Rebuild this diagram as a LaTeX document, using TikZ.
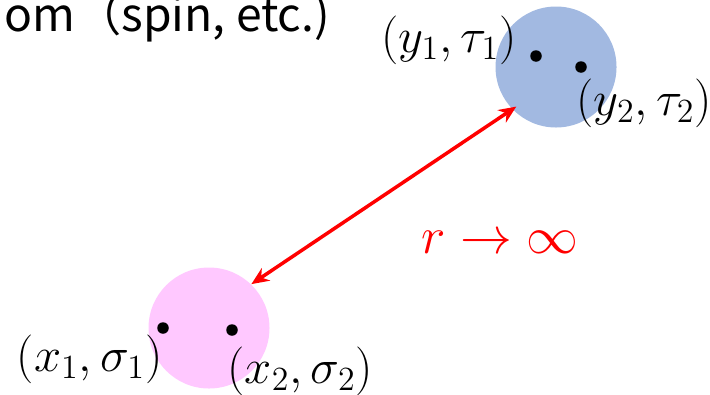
\documentclass[tikz,border=0pt]{standalone}
\usepackage{fontspec}
\newfontfamily\cjk{Noto Sans CJK SC}
\usetikzlibrary{arrows.meta}
\definecolor{blobblue}{RGB}{162,185,225}
\definecolor{blobpink}{RGB}{255,200,255}
\newcommand\lab[1]{\scalebox{0.94}{$#1$}}
\tikzset{
  blob/.style={circle,inner sep=0pt,minimum size=48.4pt},        % particle cluster
  pt/.style={circle,fill=black,inner sep=0pt,minimum size=4.6pt}, % single particle
  lbl/.style={inner sep=0pt,font=\fontsize{20}{22}\selectfont},
  sep/.style={{Stealth[length=7pt,width=6pt]}-{Stealth[length=7pt,width=6pt]},red,line width=1.4pt},
}

\begin{document}
\begin{tikzpicture}[x=0.4pt,y=-0.4pt]
  \useasboundingbox (0,0) rectangle (710,394);
  \node[anchor=base west,inner sep=0pt,font=\cjk\fontsize{18.5}{20}\selectfont] (head) at (4,31) {om（spin, etc.)};
  % clusters
  \node[blob,fill=blobblue] (B) at (556,67) {};
  \node[blob,fill=blobpink] (A) at (209,328) {};
  \node[pt] (y1) at (536,56) {}; \node[pt] (y2) at (581,67) {};
  \node[pt] (x1) at (163,328) {}; \node[pt] (x2) at (232,330) {};
  \node[lbl,anchor=base east] (ly1) at (517,52) {\lab{(y_1,\tau_1)}};
  \node[lbl,anchor=base west] (ly2) at (576,115) {\lab{(y_2,\tau_2)}};
  \node[lbl,anchor=base east] (lx1) at (163,371) {\lab{(x_1,\sigma_1)}};
  \node[lbl,anchor=base west] (lx2) at (227,383) {\lab{(x_2,\sigma_2)}};
  \draw[sep,shorten >=-2pt] (A.46) -- (B.224);
  \node[red,inner sep=0pt,font=\fontsize{21}{24}\selectfont] (dist) at (500,242) {$r\rightarrow\infty$};
\end{tikzpicture}
\end{document}
